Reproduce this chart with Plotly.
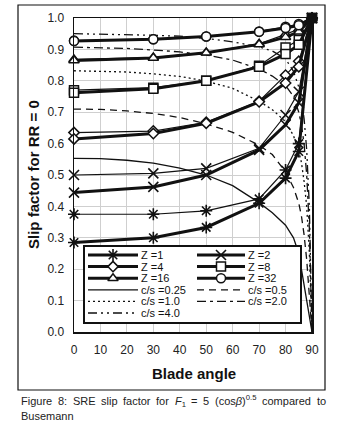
import re
import plotly.graph_objects as go

# ---------------- data ----------------
angles = [0, 30, 50, 70, 80, 85, 90]

z_labels = ["Z =1", "Z =2", "Z =4", "Z =8", "Z =16", "Z =32"]
sre_z1 = [0.285, 0.300, 0.333, 0.410, 0.490, 0.575, 1.0]
sre_z2 = [0.444, 0.462, 0.500, 0.580, 0.660, 0.730, 1.0]
sre_z4 = [0.615, 0.632, 0.665, 0.733, 0.793, 0.845, 1.0]
sre_z8 = [0.762, 0.775, 0.800, 0.845, 0.885, 0.915, 1.0]
sre_z16 = [0.865, 0.873, 0.889, 0.916, 0.939, 0.956, 1.0]
sre_z32 = [0.927, 0.932, 0.941, 0.956, 0.968, 0.977, 1.0]

alt_z1 = [0.375, 0.375, 0.386, 0.424, 0.516, 0.600, 1.0]
alt_z2 = [0.500, 0.505, 0.521, 0.585, 0.691, 0.765, 1.0]
alt_z4 = [0.635, 0.640, 0.668, 0.735, 0.818, 0.862, 1.0]
alt_z8 = [0.770, 0.778, 0.800, 0.848, 0.906, 0.930, 1.0]
alt_z16 = [0.868, 0.874, 0.890, 0.918, 0.948, 0.965, 1.0]
alt_z32 = [0.928, 0.932, 0.941, 0.957, 0.972, 0.981, 1.0]

cs_angles = [0, 10, 20, 30, 40, 50, 60, 70, 75, 80, 83, 85, 86, 87, 88, 89, 90]
cs_labels = ["c/s =0.25", "c/s =0.5", "c/s =1.0", "c/s =2.0", "c/s =4.0"]
cs_025 = [0.553, 0.552, 0.547, 0.538, 0.522, 0.500, 0.466, 0.412, 0.380, 0.340, 0.300, 0.250, 0.200, 0.150, 0.100, 0.050, 0.0]
cs_05 = [0.710, 0.709, 0.704, 0.696, 0.683, 0.663, 0.636, 0.595, 0.565, 0.510, 0.460, 0.410, 0.370, 0.310, 0.230, 0.120, 0.0]
cs_10 = [0.832, 0.831, 0.828, 0.822, 0.814, 0.799, 0.776, 0.735, 0.708, 0.670, 0.625, 0.575, 0.540, 0.480, 0.400, 0.250, 0.0]
cs_20 = [0.907, 0.906, 0.903, 0.898, 0.892, 0.882, 0.866, 0.838, 0.815, 0.785, 0.750, 0.700, 0.660, 0.600, 0.500, 0.330, 0.0]
cs_40 = [0.950, 0.949, 0.947, 0.945, 0.942, 0.935, 0.924, 0.908, 0.895, 0.870, 0.830, 0.780, 0.740, 0.680, 0.580, 0.400, 0.0]

x_ticks = [0, 10, 20, 30, 40, 50, 60, 70, 80, 90]
y_ticks = [0.0, 0.1, 0.2, 0.3, 0.4, 0.5, 0.6, 0.7, 0.8, 0.9, 1.0]

caption_words = ["Figure", "8:", "SRE", "slip", "factor", "for",
                 "<i>F</i><sub>1</sub>", "=", "5",
                 "(cos<i>β</i>)<sup>0.5</sup>", "compared", "to"]
caption_line2 = "Busemann"

# ---------------- styles ----------------
FONT = "Arial, 'Liberation Sans', sans-serif"
W, H = 342, 426
L, R, T, B = 74, 312, 18, 332  # plot area in pixels


def px(xp):
    return (xp - L) / (R - L)


def py(yp):
    return (B - yp) / (B - T)


z_series = [sre_z1, sre_z2, sre_z4, sre_z8, sre_z16, sre_z32]
alt_series = [alt_z1, alt_z2, alt_z4, alt_z8, alt_z16, alt_z32]
z_symbols = ["asterisk-open", "x-thin-open", "diamond", "square", "triangle-up", "circle"]
z_sizes = [10, 10, 8, 9, 9, 9]

cs_series = [cs_025, cs_05, cs_10, cs_20, cs_40]
cs_dash = ["solid", "7px,5px", "2px,3px", "9px,4px,3px,4px", "9px,4px,2px,4px,2px,4px"]

INK = "#111111"
fig = go.Figure()


def marker_for(i):
    sym = z_symbols[i]
    m = dict(symbol=sym, size=z_sizes[i], color="white",
             line=dict(color=INK, width=1.5))
    if sym in ("asterisk-open", "x-thin-open"):
        m["color"] = INK
        m["line"] = dict(color=INK, width=1.6)
    return m


# c/s curves
for vals, dash in zip(cs_series, cs_dash):
    fig.add_trace(go.Scatter(x=cs_angles, y=vals, mode="lines",
                             line=dict(color=INK, width=1.3, dash=dash),
                             showlegend=False, hoverinfo="skip", cliponaxis=False))

# thin comparison curves
for i, vals in enumerate(alt_series):
    fig.add_trace(go.Scatter(x=angles, y=vals, mode="lines+markers",
                             line=dict(color=INK, width=1.2),
                             marker=marker_for(i),
                             showlegend=False, hoverinfo="skip", cliponaxis=False))

# thick SRE curves (Z=8 last so its filled end square sits on top)
for i in [0, 1, 2, 4, 5, 3]:
    vals = z_series[i]
    m = marker_for(i)
    if z_symbols[i] == "square":
        m["color"] = ["white"] * (len(angles) - 1) + [INK]
    fig.add_trace(go.Scatter(x=angles, y=vals, mode="lines+markers",
                             line=dict(color=INK, width=3),
                             marker=m,
                             showlegend=False, hoverinfo="skip", cliponaxis=False))

# ---------------- manual legend (own axes) ----------------
LG_X0, LG_X1, LG_Y0, LG_Y1 = 85, 300, 247, 322
row_y = [8 + 11.6 * r for r in range(6)]
col_line = [(3, 53), (112, 160)]
col_text = [55, 162]

entries = []
for i in range(6):
    entries.append(("z", i, z_labels[i]))
for j in range(5):
    entries.append(("cs", j, cs_labels[j]))

annotations = []
for k, (kind, idx, label) in enumerate(entries):
    r, c = divmod(k, 2)
    x0, x1 = col_line[c]
    yy = row_y[r]
    if kind == "z":
        fig.add_trace(go.Scatter(x=[x0, x1], y=[yy, yy], mode="lines",
                                 line=dict(color=INK, width=3),
                                 xaxis="x2", yaxis="y2", showlegend=False,
                                 hoverinfo="skip"))
        fig.add_trace(go.Scatter(x=[(x0 + x1) / 2], y=[yy], mode="markers",
                                 marker=marker_for(idx),
                                 xaxis="x2", yaxis="y2", showlegend=False,
                                 hoverinfo="skip"))
    else:
        fig.add_trace(go.Scatter(x=[x0, x1], y=[yy, yy], mode="lines",
                                 line=dict(color=INK, width=1.3, dash=cs_dash[idx]),
                                 xaxis="x2", yaxis="y2", showlegend=False,
                                 hoverinfo="skip"))
    annotations.append(dict(x=col_text[c], y=yy, xref="x2", yref="y2",
                            text=label, showarrow=False, xanchor="left",
                            yanchor="middle", borderpad=0,
                            font=dict(family=FONT, size=11, color=INK)))

# axis titles
annotations.append(dict(x=px(33), y=py(175), xref="paper", yref="paper",
                        text="<b>Slip factor for RR = 0</b>", textangle=-90,
                        showarrow=False, xanchor="center", yanchor="middle",
                        font=dict(family=FONT, size=15, color=INK)))
annotations.append(dict(x=px(194), y=py(373), xref="paper", yref="paper",
                        text="<b>Blade angle</b>", showarrow=False,
                        xanchor="center", yanchor="middle",
                        font=dict(family=FONT, size=15, color=INK)))

# caption: justified first line (word widths from Arial metrics)
ARIAL = {"F": 611, "i": 222, "g": 556, "u": 556, "r": 333, "e": 556, "8": 556,
         ":": 278, "S": 667, "R": 722, "E": 667, "s": 500, "l": 222, "p": 556,
         "f": 278, "a": 556, "c": 500, "t": 278, "o": 556, "=": 584, "5": 556,
         "(": 333, ")": 333, "β": 575, "0": 556, ".": 278, "m": 833, "d": 556,
         "1": 556}


def word_width(word, size):
    w = 0.0
    for tok in re.split(r"(<su[bp]>.*?</su[bp]>)", word):
        scale = 0.7 if tok.startswith(("<sub>", "<sup>")) else 1.0
        for ch in re.sub(r"<[^>]+>", "", tok):
            w += ARIAL.get(ch, 556) * scale
    return w / 1000.0 * size


CAP_SIZE = 11
cap_font = dict(family=FONT, size=CAP_SIZE, color="#222222")
cap_left, cap_right = 20, 325
widths = [word_width(wd, CAP_SIZE) for wd in caption_words]
gap = (cap_right - cap_left - sum(widths)) / (len(caption_words) - 1)
xpos = cap_left
for wd, ww in zip(caption_words, widths):
    shift = 0.0
    if "<sup>" in wd:
        shift = 0.8
    elif "<sub>" in wd:
        shift = -0.8
    annotations.append(dict(x=px(xpos), y=py(401), xref="paper", yref="paper",
                            text=wd, showarrow=False, xanchor="left",
                            yanchor="middle", borderpad=0, yshift=shift,
                            font=cap_font))
    xpos += ww + gap
annotations.append(dict(x=px(cap_left), y=py(416), xref="paper", yref="paper",
                        text=caption_line2, showarrow=False, borderpad=0,
                        xanchor="left", yanchor="middle", font=cap_font))

shapes = [dict(type="rect", xref="paper", yref="paper",
               x0=px(18), x1=px(325), y0=py(390), y1=py(5),
               line=dict(color=INK, width=1.2), layer="below")]

fig.update_layout(
    width=W, height=H,
    margin=dict(l=L, r=W - R, t=T, b=H - B, pad=0),
    paper_bgcolor="white", plot_bgcolor="white",
    font=dict(family=FONT, size=12, color=INK),
    showlegend=False,
    xaxis=dict(range=[0, 90], tickvals=x_ticks, ticktext=[str(v) for v in x_ticks],
               showgrid=True, gridcolor="#cfcfcf", gridwidth=1,
               zeroline=False, showline=True, linecolor=INK, linewidth=1.5,
               mirror=True, ticks="", ticklabelstandoff=6,
               tickfont=dict(family=FONT, size=12, color="#222222")),
    yaxis=dict(range=[0, 1], tickvals=y_ticks, ticktext=[f"{v:.1f}" for v in y_ticks],
               showgrid=True, gridcolor="#cfcfcf", gridwidth=1,
               zeroline=False, showline=True, linecolor=INK, linewidth=1.5,
               mirror=True, ticks="", ticklabelstandoff=6,
               tickfont=dict(family=FONT, size=12, color="#222222")),
    xaxis2=dict(domain=[px(LG_X0), px(LG_X1)], range=[0, LG_X1 - LG_X0],
                anchor="y2", showgrid=False, zeroline=False, showticklabels=False,
                showline=True, mirror=True, linecolor=INK, linewidth=1.6, ticks=""),
    yaxis2=dict(domain=[py(LG_Y1), py(LG_Y0)], range=[LG_Y1 - LG_Y0, 0],
                anchor="x2", showgrid=False, zeroline=False, showticklabels=False,
                showline=True, mirror=True, linecolor=INK, linewidth=1.6, ticks=""),
    annotations=annotations,
    shapes=shapes,
)

fig.write_html("out.html", config={"displayModeBar": False, "staticPlot": True},
               post_script="document.body.style.margin='0px';document.body.style.padding='0px';")
